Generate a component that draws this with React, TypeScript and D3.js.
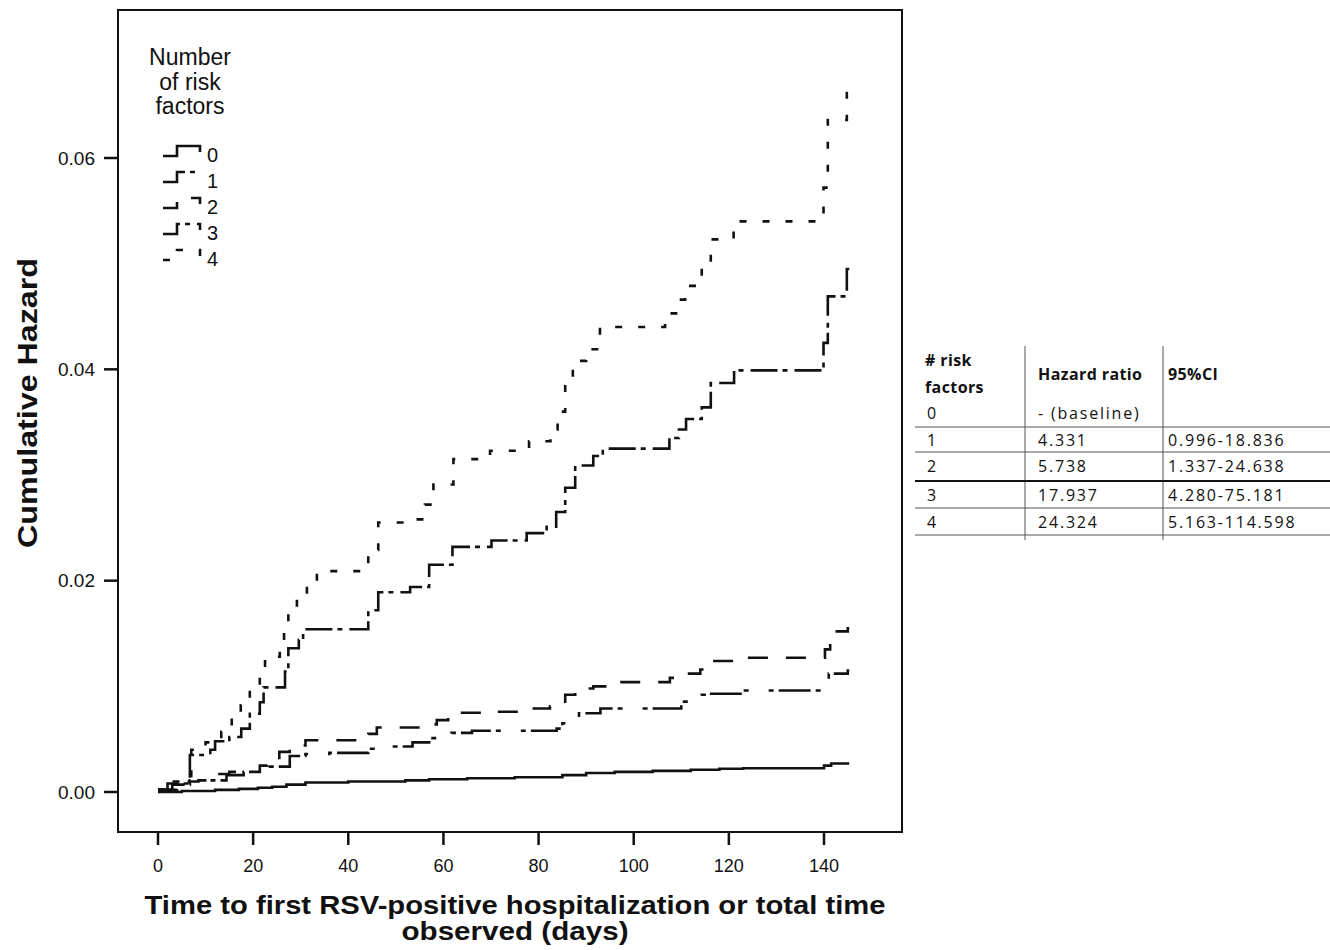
import React from 'react';
import * as d3 from 'd3';

// step data (days, hazard)
const days0 = [0, 5, 12, 17, 21, 24, 27, 31, 40, 52, 57, 65, 75, 85, 90, 96, 104, 112, 118, 123, 140, 141.5, 145.3];
const hazard0 = [0, 0.0001, 0.0002, 0.0003, 0.0004, 0.0005, 0.0007, 0.0009, 0.001, 0.0011, 0.0012, 0.0013, 0.0014, 0.0016, 0.0018, 0.0019, 0.002, 0.0021, 0.0022, 0.00225, 0.0025, 0.0027, 0.0027];

const days1 = [0, 3, 6.7, 14.4, 18, 21.4, 27.7, 31, 36, 44.2, 46, 53.5, 57, 61.7, 66, 83.8, 85, 86.5, 88.5, 93, 110, 114.3, 116, 123, 140, 141, 145, 145.3];
const hazard1 = [0.0002, 0.0007, 0.0011, 0.0016, 0.0019, 0.0024, 0.0034, 0.0036, 0.0037, 0.0041, 0.0043, 0.0047, 0.0051, 0.0056, 0.0058, 0.006, 0.0065, 0.007, 0.00745, 0.0079, 0.00855, 0.0092, 0.0093, 0.0096, 0.01, 0.0112, 0.0115, 0.0115];

const days2 = [0, 4, 8.5, 12, 15, 21.4, 23, 25.5, 27.7, 31, 44.2, 46, 57, 58.6, 61, 70, 79, 82.4, 85.6, 87.7, 91.5, 94.6, 107.6, 110.3, 114, 116.4, 120.9, 140.2, 141.3, 145, 145.3];
const hazard2 = [0.0002, 0.001, 0.0011, 0.0017, 0.0019, 0.0025, 0.003, 0.0038, 0.0044, 0.0049, 0.0055, 0.0061, 0.0064, 0.0068, 0.0075, 0.0076, 0.0079, 0.0081, 0.0092, 0.0098, 0.01, 0.0104, 0.0108, 0.0112, 0.0116, 0.0124, 0.0127, 0.0135, 0.0152, 0.0155, 0.0155];

const days3 = [0, 2, 6.7, 11, 12, 15, 17.5, 19.3, 21.4, 22.2, 26.7, 27.4, 29.6, 30.5, 44.2, 46.3, 53, 57, 61.9, 70.1, 77.5, 81.7, 83.7, 85.6, 87.7, 91.5, 93.5, 107.5, 109.5, 111, 114.3, 116.2, 121.1, 139.9, 140.8, 144.8, 145.3];
const hazard3 = [0.0002, 0.0008, 0.0035, 0.004, 0.0048, 0.0052, 0.006, 0.0074, 0.0085, 0.0099, 0.0114, 0.0136, 0.0144, 0.0154, 0.0172, 0.0189, 0.0194, 0.0215, 0.0232, 0.0238, 0.0245, 0.0251, 0.0265, 0.0288, 0.0309, 0.0318, 0.0325, 0.0335, 0.0343, 0.0353, 0.0364, 0.0387, 0.0399, 0.0425, 0.0469, 0.0495, 0.0495];

const days4 = [0, 2, 7, 10, 13.3, 15.5, 17.4, 19.3, 21.4, 22.5, 25.6, 26.5, 27.4, 29.2, 31.3, 33.4, 44.2, 46.3, 53.3, 56.1, 57.9, 62.1, 69.8, 78, 82.5, 84, 85.6, 87.2, 90, 92.9, 106.6, 108.9, 110.8, 114.3, 116.2, 121, 139.9, 140.8, 144.8, 145.3];
const hazard4 = [0.0002, 0.001, 0.004, 0.0047, 0.0057, 0.0074, 0.0082, 0.0098, 0.0112, 0.0128, 0.0135, 0.0153, 0.0171, 0.0184, 0.0197, 0.0209, 0.0229, 0.0255, 0.0258, 0.0272, 0.0291, 0.0315, 0.0323, 0.0332, 0.0343, 0.036, 0.039, 0.0408, 0.0419, 0.044, 0.0453, 0.0466, 0.0479, 0.05, 0.0523, 0.054, 0.0572, 0.0636, 0.0667, 0.0667];

const riskGroups = ['0', '1', '2', '3', '4'];
const xTicks = [0, 20, 40, 60, 80, 100, 120, 140];
const yTicks = [0, 0.02, 0.04, 0.06];

// side table
const tableRisk = ['1', '2', '3', '4'];
const tableHR = ['4.331', '5.738', '17.937', '24.324'];
const tableCI = ['0.996-18.836', '1.337-24.638', '4.280-75.181', '5.163-114.598'];

const dashes = ['none', '32,5,5,20,5,5', '20,18', '27,5,5,7', '7,16'];

const sans = "'Liberation Sans', Arial, Helvetica, sans-serif";
const tableFont = "'Open Sans', 'Noto Sans', sans-serif";

const frame = { left: 118, right: 902, top: 10, bottom: 832 };

export default function App() {
  const x = d3.scaleLinear().domain([0, 140]).range([158, 824]);
  const y = d3.scaleLinear().domain([0, 0.06]).range([792, 158]);

  const line = d3.line<[number, number]>()
    .x(d => x(d[0]))
    .y(d => y(d[1]))
    .curve(d3.curveStepAfter);

  const curves = [
    d3.zip(days0, hazard0),
    d3.zip(days1, hazard1),
    d3.zip(days2, hazard2),
    d3.zip(days3, hazard3),
    d3.zip(days4, hazard4),
  ] as [number, number][][];

  const legendBase = (i: number) => 162 + i * 26;

  // table rows
  const rowLines = [427, 452, 481, 508, 535];
  const rowBase = [446, 472, 501, 528];
  const col1 = 1025, col2 = 1163;

  return (
    <div style={{ position: 'absolute', left: 0, top: 0 }}>
      <svg width={1330} height={950} style={{ display: 'block', background: '#fff' }}>
        {/* frame */}
        <rect x={frame.left} y={frame.top} width={frame.right - frame.left} height={frame.bottom - frame.top}
          fill="none" stroke="#111" strokeWidth={2} />

        {/* y axis */}
        {yTicks.map(t => (
          <g key={t}>
            <line x1={104} x2={frame.left} y1={y(t)} y2={y(t)} stroke="#111" strokeWidth={2.5} />
            <text x={95} y={y(t) + 6.5} textAnchor="end" fontFamily={sans} fontSize={19} fill="#111">
              {d3.format('.2f')(t)}
            </text>
          </g>
        ))}

        {/* x axis */}
        {xTicks.map(t => (
          <g key={t}>
            <line x1={x(t)} x2={x(t)} y1={frame.bottom} y2={frame.bottom + 13} stroke="#111" strokeWidth={2.5} />
            <text x={x(t)} y={872} textAnchor="middle" fontFamily={sans} fontSize={18} fill="#111">{t}</text>
          </g>
        ))}

        <text x={515} y={914} textAnchor="middle" fontFamily={sans} fontSize={25} fontWeight="bold"
          textLength={741} lengthAdjust="spacingAndGlyphs" fill="#111">
          Time to first RSV-positive hospitalization or total time
        </text>
        <text x={515} y={940} textAnchor="middle" fontFamily={sans} fontSize={25} fontWeight="bold"
          textLength={227} lengthAdjust="spacingAndGlyphs" fill="#111">
          observed (days)
        </text>

        <text transform="translate(37,403) rotate(-90)" textAnchor="middle" fontFamily={sans} fontSize={27}
          fontWeight="bold" textLength={290} lengthAdjust="spacingAndGlyphs" fill="#111">
          Cumulative Hazard
        </text>

        {/* curves */}
        {curves.map((pts, i) => (
          <path key={i} d={line(pts) || ''} fill="none" stroke="#111" strokeWidth={2.6}
            strokeDasharray={dashes[i]} />
        ))}

        {/* legend */}
        <g fontFamily={sans} fill="#111">
          <text x={190} y={65} textAnchor="middle" fontSize={23}>Number</text>
          <text x={190} y={90} textAnchor="middle" fontSize={23}>of risk</text>
          <text x={190} y={114} textAnchor="middle" fontSize={23}>factors</text>
          {riskGroups.map((g, i) => {
            const b = legendBase(i);
            return (
              <g key={g}>
                <path d={`M163,${b - 6}H177V${b - 16}H200V${b - 10}`} fill="none" stroke="#111" strokeWidth={2.6}
                  strokeDasharray={dashes[i]} />
                <text x={207} y={b} fontSize={20}>{g}</text>
              </g>
            );
          })}
        </g>

        {/* hazard ratio table */}
        <g fontFamily={tableFont} fontSize={16} fill="#111" letterSpacing={1.8}>
          <line x1={col1} x2={col1} y1={346} y2={540} stroke="#555" strokeWidth={1} />
          <line x1={col2} x2={col2} y1={346} y2={540} stroke="#555" strokeWidth={1} />
          {rowLines.map((ly, i) => (
            <line key={ly} x1={915} x2={1330} y1={ly} y2={ly} stroke={i === 2 ? '#111' : '#555'}
              strokeWidth={i === 2 ? 2 : 1} />
          ))}
          <text x={925} y={366} fontWeight="bold" letterSpacing={0.4}># risk</text>
          <text x={925} y={393} fontWeight="bold" letterSpacing={0.4}>factors</text>
          <text x={1038} y={380} fontWeight="bold" letterSpacing={0.4}>Hazard ratio</text>
          <text x={1168} y={380} fontWeight="bold" letterSpacing={0.4}>95%CI</text>
          <text x={927} y={419}>0</text>
          <text x={1038} y={419}>- (baseline)</text>
          {tableRisk.map((r, i) => (
            <g key={r}>
              <text x={927} y={rowBase[i]}>{r}</text>
              <text x={1038} y={rowBase[i]}>{tableHR[i]}</text>
              <text x={1168} y={rowBase[i]}>{tableCI[i]}</text>
            </g>
          ))}
        </g>
      </svg>
    </div>
  );
}
